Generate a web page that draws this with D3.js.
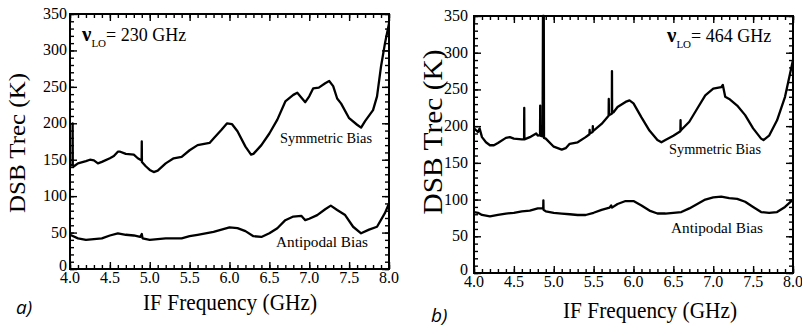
<!DOCTYPE html>
<html>
<head>
<meta charset="utf-8">
<script src="https://cdn.jsdelivr.net/npm/d3@7"></script>
<style>
  body { margin: 0; background: #fff; }
  svg { display: block; }
  text { font-family: "Liberation Serif", Tinos, "Times New Roman", Times, "Nimbus Roman", FreeSerif, serif; }
</style>
</head>
<body>
<script>
// IF frequency ticks (GHz) and temperature ticks (K)
const xTicks = [4.0, 4.5, 5.0, 5.5, 6.0, 6.5, 7.0, 7.5, 8.0];
const yTicks = [0, 50, 100, 150, 200, 250, 300, 350];

// panel a) LO = 230 GHz, [GHz, K]
const sym230 = [
  [4.0, 143], [4.03, 142], [4.032, 142], [4.033, 200], [4.035, 143], [4.05, 141], [4.1, 145], [4.2, 148],
  [4.25, 150], [4.3, 149], [4.35, 145], [4.4, 147], [4.5, 152], [4.55, 155],
  [4.6, 161], [4.63, 161], [4.7, 158], [4.8, 157], [4.85, 152], [4.898, 149],
  [4.9, 175], [4.902, 147], [4.95, 141], [5.0, 136], [5.05, 133], [5.1, 135], [5.2, 145],
  [5.3, 152], [5.4, 154], [5.5, 163], [5.6, 170], [5.7, 172], [5.75, 173],
  [5.8, 179], [5.9, 191], [5.97, 200], [6.03, 199], [6.1, 189], [6.2, 168],
  [6.27, 157], [6.3, 158], [6.4, 170], [6.5, 186], [6.6, 205], [6.7, 230],
  [6.8, 239], [6.85, 242], [6.95, 229], [7.0, 237], [7.05, 248], [7.12, 249],
  [7.2, 255], [7.25, 258], [7.3, 251], [7.35, 234], [7.4, 227], [7.5, 207],
  [7.6, 198], [7.65, 194], [7.7, 203], [7.8, 218], [7.85, 237], [7.9, 278],
  [7.95, 310], [8.0, 337]
];
const anti230 = [
  [4.0, 47], [4.1, 42], [4.2, 40], [4.3, 41], [4.4, 42], [4.5, 46], [4.6, 49],
  [4.7, 47], [4.8, 46], [4.88, 44], [4.9, 48], [4.91, 42], [5.0, 40], [5.1, 41], [5.2, 42],
  [5.3, 42], [5.4, 42], [5.5, 45], [5.6, 47], [5.7, 49], [5.8, 51], [5.9, 54],
  [6.0, 57], [6.1, 56], [6.2, 52], [6.3, 45], [6.4, 44], [6.5, 49], [6.6, 56],
  [6.7, 67], [6.8, 72], [6.9, 73], [6.95, 67], [7.0, 69], [7.1, 74], [7.2, 82],
  [7.27, 87], [7.35, 81], [7.45, 74], [7.55, 58], [7.65, 49], [7.75, 54],
  [7.85, 58], [7.95, 77], [8.0, 90]
];

// panel b) LO = 464 GHz, [GHz, K]
const sym464 = [
  [4.0, 197], [4.05, 192], [4.07, 197], [4.1, 185], [4.15, 178], [4.2, 174],
  [4.25, 174], [4.3, 177], [4.4, 184], [4.45, 185], [4.5, 183], [4.6, 182],
  [4.628, 182], [4.63, 225], [4.632, 182], [4.7, 185], [4.78, 190], [4.8, 187],
  [4.828, 188], [4.83, 228], [4.832, 187], [4.86, 186], [4.865, 350], [4.868, 186],
  [4.872, 186], [4.875, 350], [4.878, 184], [4.9, 183], [5.0, 172],
  [5.1, 168], [5.15, 170], [5.2, 176], [5.3, 178], [5.4, 185], [5.448, 189],
  [5.45, 195], [5.452, 190], [5.488, 192], [5.49, 200], [5.492, 193], [5.5, 194], [5.6, 203],
  [5.688, 214], [5.69, 237], [5.692, 215], [5.728, 217], [5.73, 275], [5.732, 218],
  [5.75, 219], [5.8, 226], [5.9, 233], [5.95, 235], [6.0, 231], [6.1, 212],
  [6.2, 194], [6.3, 181], [6.35, 178], [6.4, 181], [6.5, 187], [6.588, 193],
  [6.59, 208], [6.592, 194], [6.7, 206], [6.8, 224], [6.9, 242], [7.0, 251],
  [7.05, 252], [7.1, 253], [7.12, 256], [7.15, 240], [7.2, 237], [7.3, 228], [7.4, 215],
  [7.5, 197], [7.6, 183], [7.63, 181], [7.7, 187], [7.8, 208], [7.9, 240], [8.0, 290]
];
const anti464 = [
  [4.0, 83], [4.05, 82], [4.1, 79], [4.2, 77], [4.3, 79], [4.4, 81], [4.5, 82],
  [4.6, 84], [4.7, 85], [4.8, 88], [4.868, 88], [4.87, 99], [4.872, 86], [4.9, 84],
  [5.0, 82], [5.1, 81], [5.2, 80], [5.3, 79], [5.4, 79], [5.5, 82], [5.6, 86],
  [5.7, 89], [5.72, 92], [5.73, 89], [5.8, 94], [5.9, 98], [6.0, 98], [6.1, 92],
  [6.2, 85], [6.3, 81], [6.4, 81], [6.5, 82], [6.6, 83], [6.7, 88], [6.8, 94],
  [6.9, 100], [7.0, 103], [7.1, 104], [7.2, 102], [7.3, 101], [7.4, 97], [7.5, 90],
  [7.6, 83], [7.7, 82], [7.8, 83], [7.9, 90], [8.0, 100]
];

const svg = d3.select('body').append('svg')
    .attr('width', 802)
    .attr('height', 329);

const draw = (p) => {
    const x = d3.scaleLinear().domain([4, 8]).range([p.left, p.right]);
    const y = d3.scaleLinear().domain([0, 350]).range([p.bottom, p.top]);

    const g = svg.append('g');

    // minor ticks every 0.1 GHz / 10 K, inward on all four sides
    const xMinor = d3.range(40, 81).map(v => v / 10);
    const yMinor = d3.range(0, 351, 10);

    const axes = [
        [d3.axisBottom(x), p.bottom, 'x'],
        [d3.axisTop(x), p.top, 'x'],
        [d3.axisLeft(y), p.left, 'y'],
        [d3.axisRight(y), p.right, 'y'],
    ];
    axes.forEach(([ax, pos, dim]) => {
        const tr = dim === 'x' ? `translate(0,${pos})` : `translate(${pos},0)`;
        g.append('g').attr('transform', tr)
            .call(ax.tickValues(dim === 'x' ? xMinor : yMinor).tickSize(-4).tickFormat(''))
            .call(s => s.select('.domain').remove());
        g.append('g').attr('transform', tr)
            .call(ax.tickValues(dim === 'x' ? xTicks : yTicks).tickSize(-7).tickFormat(''))
            .call(s => s.select('.domain').remove());
    });
    g.selectAll('.tick line').attr('stroke', '#000').attr('stroke-width', 1.4);

    // tick labels
    g.selectAll('.xlab').data(xTicks).enter().append('text')
        .attr('x', d => x(d))
        .attr('y', p.bottom + 14)
        .attr('text-anchor', 'middle')
        .style('font-size', '16px')
        .text(d => d.toFixed(1));
    g.selectAll('.ylab').data(yTicks).enter().append('text')
        .attr('x', p.left - p.ylabGap)
        .attr('y', d => y(d) + 5 - (d === 0 ? 3 : 0))
        .attr('text-anchor', 'end')
        .style('font-size', '16px')
        .text(d => d);

    // frame
    g.append('rect')
        .attr('x', p.left).attr('y', p.top)
        .attr('width', p.right - p.left).attr('height', p.bottom - p.top)
        .attr('fill', 'none').attr('stroke', '#000').attr('stroke-width', 2);

    const line = d3.line().x(d => x(d[0])).y(d => y(d[1]));
    g.selectAll('.trace').data([p.sym, p.anti]).enter().append('path')
        .attr('d', line)
        .attr('fill', 'none')
        .attr('stroke', '#000')
        .attr('stroke-width', 2.3)
        .attr('stroke-linejoin', 'round');

    // axis titles
    g.append('text')
        .attr('x', p.xTitle[0]).attr('y', p.xTitle[1])
        .attr('text-anchor', 'middle')
        .attr('textLength', 174).attr('lengthAdjust', 'spacingAndGlyphs')
        .style('font-size', '24px')
        .text('IF Frequency (GHz)');
    g.append('text')
        .attr('transform', `translate(${p.yTitle[0]},${p.yTitle[1]}) rotate(-90)`)
        .attr('text-anchor', 'middle')
        .attr('textLength', p.yTitleLen).attr('lengthAdjust', 'spacingAndGlyphs')
        .style('font-size', p.yTitleSize + 'px')
        .text('DSB Trec (K)');

    // LO annotation
    const lo = g.append('text')
        .attr('x', p.lo[0]).attr('y', p.lo[1])
        .style('font-size', '18px');
    lo.append('tspan').style('font-weight', 'bold').style('font-size', '21px').text('ν');
    lo.append('tspan').attr('dy', 6).style('font-size', '11px').text('LO');
    lo.append('tspan').attr('dy', -6).text('= ' + p.loText);

    // curve labels
    g.selectAll('.clab').data(p.labels).enter().append('text')
        .attr('x', d => d.x).attr('y', d => d.y)
        .attr('text-anchor', 'middle')
        .attr('textLength', 92).attr('lengthAdjust', 'spacingAndGlyphs')
        .style('font-size', '15px')
        .text(d => d.text);

    g.append('text')
        .attr('x', p.tag[0]).attr('y', p.tag[1])
        .style('font-family', '"Open Sans", "Noto Sans", sans-serif')
        .style('font-style', 'italic')
        .style('font-size', '19px')
        .text(p.tagText);
};

draw({
    left: 70, right: 389, top: 14, bottom: 269, ylabGap: 3,
    sym: sym230, anti: anti230,
    xTitle: [230, 310], yTitle: [25, 143], yTitleLen: 140, yTitleSize: 24,
    lo: [82, 41], loText: '230 GHz',
    labels: [{x: 326, y: 143, text: 'Symmetric Bias'}, {x: 322, y: 247, text: 'Antipodal Bias'}],
    tag: [16, 314], tagText: 'a)',
});

draw({
    left: 474, right: 793, top: 16, bottom: 273, ylabGap: 6,
    sym: sym464, anti: anti464,
    xTitle: [650, 318], yTitle: [442, 132], yTitleLen: 165, yTitleSize: 27,
    lo: [667, 42], loText: '464 GHz',
    labels: [{x: 715, y: 154, text: 'Symmetric Bias'}, {x: 717, y: 233, text: 'Antipodal Bias'}],
    tag: [431, 322], tagText: 'b)',
});
</script>
</body>
</html>
